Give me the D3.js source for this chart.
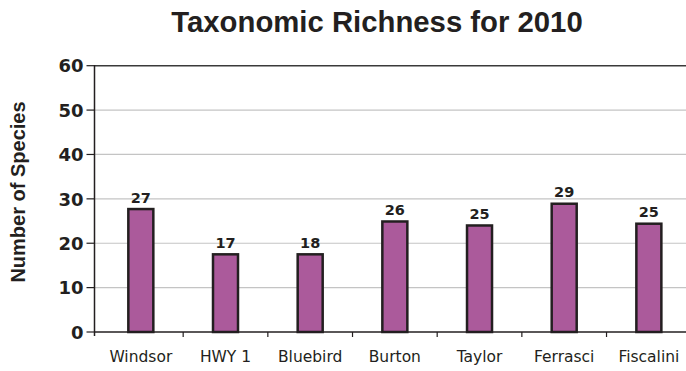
<!DOCTYPE html>
<html>
<head>
<meta charset="utf-8">
<script src="https://cdn.jsdelivr.net/npm/d3@7/dist/d3.min.js"></script>
<style>
  body { margin: 0; background: #fff; }
  svg { display: block; }
</style>
</head>
<body>
<svg width="686" height="371"></svg>
<script>
const sites = ["Windsor", "HWY 1", "Bluebird", "Burton", "Taylor", "Ferrasci", "Fiscalini"];
// bar heights as drawn in the picture
const barValues = [27.7, 17.5, 17.5, 24.9, 24.0, 28.9, 24.4];
// numbers printed above the bars
const barLabels = ["27", "17", "18", "26", "25", "29", "25"];
const yTicks = [0, 10, 20, 30, 40, 50, 60];

const svg = d3.select("svg");
const axisX = 94.5, plotBottom = 332, plotTop = 65.7;

const x = d3.scaleBand().domain(sites).range([98.5, 691.2]).paddingInner(0).paddingOuter(0);
const y = d3.scaleLinear().domain([0, 60]).range([plotBottom, plotTop]);
const barW = 25;

// gridlines
svg.append("g").selectAll("line")
  .data(yTicks.filter(d => d > 0 && d < 60))
  .join("line")
  .attr("x1", axisX).attr("x2", 686)
  .attr("y1", d => y(d)).attr("y2", d => y(d))
  .attr("stroke", "#c4c4c4").attr("stroke-width", 1.2);

// top border of plot
svg.append("line")
  .attr("x1", axisX).attr("x2", 686)
  .attr("y1", y(60)).attr("y2", y(60))
  .attr("stroke", "#3a3a3a").attr("stroke-width", 1.5);

// bars
svg.append("g").selectAll("rect")
  .data(barValues)
  .join("rect")
  .attr("x", (d, i) => x(sites[i]) + x.bandwidth() / 2 - barW / 2)
  .attr("y", d => y(d))
  .attr("width", barW)
  .attr("height", d => y(0) - y(d))
  .attr("fill", "#ab5a9b")
  .attr("stroke", "#231f20")
  .attr("stroke-width", 2.5);

// value labels
svg.append("g").selectAll("text")
  .data(barLabels)
  .join("text")
  .attr("x", (d, i) => x(sites[i]) + x.bandwidth() / 2)
  .attr("y", (d, i) => y(barValues[i]) - 6.5)
  .attr("text-anchor", "middle")
  .style("font-family", "'DejaVu Sans', Verdana, sans-serif")
  .style("font-weight", "bold")
  .style("font-size", "14.5px")
  .style("fill", "#231f20")
  .text(d => d);

// x axis
const xAxis = svg.append("g").attr("transform", `translate(0,${plotBottom})`);
xAxis.append("line").attr("x1", axisX).attr("x2", 686).attr("y1", 0).attr("y2", 0)
  .attr("stroke", "#231f20").attr("stroke-width", 1.5);
xAxis.selectAll(".tick")
  .data(sites.slice(1))
  .join("line")
  .attr("x1", d => x(d)).attr("x2", d => x(d))
  .attr("y1", 0).attr("y2", 5)
  .attr("stroke", "#231f20").attr("stroke-width", 1.2);
xAxis.selectAll("text")
  .data(sites)
  .join("text")
  .attr("x", d => x(d) + x.bandwidth() / 2)
  .attr("y", 30)
  .attr("text-anchor", "middle")
  .style("font-family", "'DejaVu Sans', Tahoma, sans-serif")
  .style("font-size", "15.5px")
  .style("fill", "#231f20")
  .text(d => d);

// y axis
const yAxis = svg.append("g");
yAxis.append("line").attr("x1", axisX).attr("x2", axisX).attr("y1", plotTop - 0.7).attr("y2", plotBottom + 4)
  .attr("stroke", "#231f20").attr("stroke-width", 1.5);
yAxis.selectAll(".tick")
  .data(yTicks)
  .join("line")
  .attr("x1", axisX - 8).attr("x2", axisX)
  .attr("y1", d => y(d)).attr("y2", d => y(d))
  .attr("stroke", "#231f20").attr("stroke-width", 1.2);
yAxis.selectAll("text")
  .data(yTicks)
  .join("text")
  .attr("x", axisX - 11)
  .attr("y", d => y(d))
  .attr("dy", "0.37em")
  .attr("text-anchor", "end")
  .style("font-family", "'DejaVu Sans', Verdana, sans-serif")
  .style("font-weight", "bold")
  .style("font-size", "18px")
  .style("fill", "#231f20")
  .text(d => d);

// y title
svg.append("text")
  .attr("transform", "translate(24.5,192) rotate(-90)")
  .attr("text-anchor", "middle")
  .style("font-family", "'Liberation Sans', Arial, sans-serif")
  .style("font-weight", "bold")
  .style("font-size", "20px")
  .style("fill", "#231f20")
  .text("Number of Species");

// title
svg.append("text")
  .attr("x", 377)
  .attr("y", 32)
  .attr("text-anchor", "middle")
  .style("font-family", "'Liberation Sans', Arial, sans-serif")
  .style("font-weight", "bold")
  .style("font-size", "29.3px")
  .style("fill", "#231f20")
  .text("Taxonomic Richness for 2010");
</script>
</body>
</html>
